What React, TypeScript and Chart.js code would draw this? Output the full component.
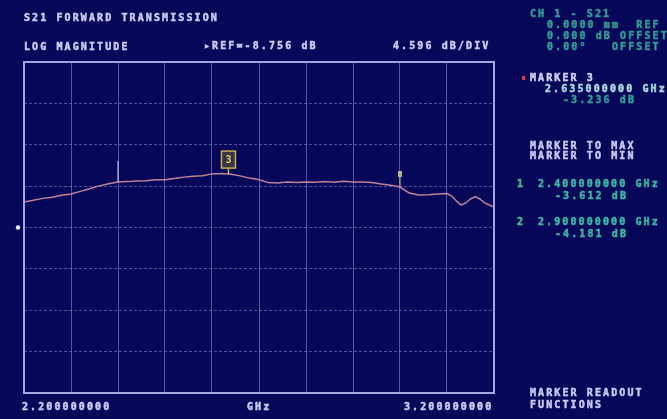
import React, { useEffect, useRef } from "react";
import { Chart, registerables } from "chart.js";

Chart.register(...registerables);

// ---- data ----
const X_START_GHZ = 2.2;
const X_STOP_GHZ = 3.2;
const X_DIVS = 10;
const REF_DB = -8.756;
const DB_PER_DIV = 4.596;
const Y_DIVS = 8;

const FREQ_GHZ = [
  2.2, 2.22, 2.24, 2.26, 2.28, 2.3, 2.32, 2.34, 2.36, 2.38, 2.4, 2.42, 2.44, 2.46, 2.48, 2.5,
  2.52, 2.54, 2.56, 2.58, 2.6, 2.62, 2.64, 2.66, 2.68, 2.7, 2.72, 2.74, 2.76, 2.78, 2.8,
  2.82, 2.84, 2.86, 2.88, 2.9, 2.92, 2.94, 2.96, 2.98, 3.0, 3.01, 3.02, 3.04, 3.06, 3.08,
  3.1, 3.11, 3.12, 3.13, 3.14, 3.15, 3.16, 3.17, 3.18, 3.19, 3.2,
];
const TRACE_DB = [
  -5.93, -5.73, -5.52, -5.39, -5.18, -5.04, -4.74, -4.45, -4.13, -3.89, -3.7, -3.66, -3.58,
  -3.55, -3.46, -3.44, -3.3, -3.16, -3.07, -3.0, -2.8, -2.77, -2.84, -3.02, -3.27, -3.46,
  -3.77, -3.8, -3.7, -3.77, -3.69, -3.72, -3.64, -3.72, -3.63, -3.71, -3.7, -3.77, -3.92,
  -4.05, -4.26, -4.6, -4.93, -5.15, -5.12, -5.04, -4.98, -5.26, -5.81, -6.26, -6.03, -5.59,
  -5.32, -5.59, -6.03, -6.26, -6.48,
];

const MARKER_IDS = ["1", "2", "3"];
const MARKER_FREQ_GHZ = [2.4, 3.0, 2.635];

const TITLE = "S21 FORWARD TRANSMISSION";
const FORMAT_LABEL = "LOG MAGNITUDE";
const REF_LABEL = "\u25B8REF=-8.756 dB";
const SCALE_LABEL = "4.596 dB/DIV";
const START_LABEL = "2.200000000";
const UNIT_LABEL = "GHz";
const STOP_LABEL = "3.200000000";

const PANEL_LINES: [string, number, number, string][] = [
  ["CH 1 - S21", 530, 14, "#2f9e92"],
  ["0.0000 mm  REF", 547, 25, "#2f9e92"],
  ["0.000 dB OFFSET", 547, 36, "#2f9e92"],
  ["0.00\u00B0   OFFSET", 547, 47, "#2f9e92"],
  ["MARKER 3", 530, 78, "#d0d0f4"],
  ["2.635000000 GHz", 545, 89, "#a8d8dc"],
  ["-3.236 dB", 563, 100, "#2f9e92"],
  ["MARKER TO MAX", 530, 146, "#c8c8f0"],
  ["MARKER TO MIN", 530, 156, "#c8c8f0"],
  ["1", 517, 184, "#3fc08a"],
  ["2.400000000 GHz", 538, 184, "#38b8a0"],
  ["-3.612 dB", 555, 196, "#38b8a0"],
  ["2", 517, 222, "#3fc08a"],
  ["2.900000000 GHz", 538, 222, "#38b8a0"],
  ["-4.181 dB", 555, 234, "#38b8a0"],
  ["MARKER READOUT", 530, 393, "#c8c8f0"],
  ["FUNCTIONS", 530, 405, "#c8c8f0"],
];

const BG = "#07075a";
const TEXT = "#cacaf2";

function traceAt(f: number): number {
  for (let i = 0; i < FREQ_GHZ.length - 1; i++) {
    if (f >= FREQ_GHZ[i] && f <= FREQ_GHZ[i + 1]) {
      const t = (f - FREQ_GHZ[i]) / (FREQ_GHZ[i + 1] - FREQ_GHZ[i]);
      return TRACE_DB[i] + t * (TRACE_DB[i + 1] - TRACE_DB[i]);
    }
  }
  return TRACE_DB[TRACE_DB.length - 1];
}

function txt(ctx: CanvasRenderingContext2D, s: string, x: number, y: number, color: string) {
  ctx.fillStyle = color;
  ctx.strokeStyle = color;
  ctx.lineWidth = 0.5;
  ctx.fillText(s, x, y);
  ctx.strokeText(s, x, y);
}

const hpPlugin = {
  id: "hp",
  beforeDraw(chart: any) {
    const ctx = chart.ctx as CanvasRenderingContext2D;
    ctx.save();
    ctx.fillStyle = BG;
    ctx.fillRect(0, 0, chart.width, chart.height);
    ctx.restore();
  },
  afterDraw(chart: any) {
    const ctx = chart.ctx as CanvasRenderingContext2D;
    const a = chart.chartArea;
    const xs = chart.scales.x;
    const ys = chart.scales.y;
    ctx.save();
    // border
    ctx.strokeStyle = "#a4a4e0";
    ctx.lineWidth = 2;
    ctx.strokeRect(a.left, a.top, a.right - a.left, a.bottom - a.top);

    // reference position dot
    const yRef = ys.getPixelForValue(REF_DB);
    ctx.fillStyle = "#f0f0ff";
    ctx.beginPath();
    ctx.arc(a.left - 6, yRef, 2.2, 0, Math.PI * 2);
    ctx.fill();

    // markers
    MARKER_IDS.forEach((id, i) => {
      const f = MARKER_FREQ_GHZ[i];
      const px = xs.getPixelForValue(f);
      const py = ys.getPixelForValue(traceAt(f));
      if (id === "1") {
        ctx.strokeStyle = "#d8d8f0";
        ctx.lineWidth = 1;
        ctx.beginPath();
        ctx.moveTo(px, py);
        ctx.lineTo(px, py - 21);
        ctx.stroke();
      } else if (id === "2") {
        ctx.strokeStyle = "#c8c090";
        ctx.lineWidth = 1;
        ctx.beginPath();
        ctx.moveTo(px, py);
        ctx.lineTo(px, py - 10);
        ctx.stroke();
        ctx.fillStyle = "#b8b088";
        ctx.fillRect(px - 2, py - 16, 4, 6);
      } else {
        ctx.strokeStyle = "#c8b050";
        ctx.lineWidth = 1.5;
        ctx.beginPath();
        ctx.moveTo(px, py);
        ctx.lineTo(px, py - 6);
        ctx.stroke();
        ctx.fillStyle = "rgba(120,110,40,0.45)";
        ctx.fillRect(px - 7, py - 23, 14, 17);
        ctx.strokeRect(px - 7, py - 23, 14, 17);
        ctx.fillStyle = "#e0d070";
        ctx.font = "bold 10px 'DejaVu Sans Mono'";
        ctx.textAlign = "center";
        ctx.textBaseline = "middle";
        ctx.fillText(id, px, py - 14);
      }
    });

    // texts
    ctx.textAlign = "left";
    ctx.textBaseline = "middle";
    ctx.font = "bold 10px 'DejaVu Sans Mono'";
    (ctx as any).letterSpacing = "2.1px";
    txt(ctx, TITLE, 24, 18, TEXT);
    txt(ctx, FORMAT_LABEL, 24, 47, TEXT);
    txt(ctx, REF_LABEL, 204, 46, TEXT);
    txt(ctx, SCALE_LABEL, 393, 46, TEXT);
    txt(ctx, START_LABEL, 22, 407, TEXT);
    txt(ctx, UNIT_LABEL, 247, 407, TEXT);
    txt(ctx, STOP_LABEL, 404, 407, TEXT);
    PANEL_LINES.forEach(([s, x, y, c]) => txt(ctx, s, x, y, c));
    // red marker indicator
    ctx.fillStyle = "#e03838";
    ctx.fillRect(522, 76, 3, 4);
    ctx.restore();
  },
};

export default function App() {
  const ref = useRef<HTMLCanvasElement | null>(null);
  useEffect(() => {
    document.body.style.margin = "0";
    document.body.style.background = BG;
    const canvas = ref.current!;
    const yMin = REF_DB - (Y_DIVS / 2) * DB_PER_DIV;
    const yMax = REF_DB + (Y_DIVS / 2) * DB_PER_DIV;
    const xStep = (X_STOP_GHZ - X_START_GHZ) / X_DIVS;
    const chart = new Chart(canvas, {
      type: "line",
      data: {
        datasets: [
          {
            data: FREQ_GHZ.map((f, i) => ({ x: f, y: TRACE_DB[i] })),
            borderColor: "#c08296",
            borderWidth: 1.5,
            pointRadius: 0,
            tension: 0,
          },
        ],
      },
      options: {
        responsive: false,
        animation: false,
        events: [],
        layout: { padding: { left: 24, right: 173, top: 62, bottom: 26 } },
        plugins: { legend: { display: false }, tooltip: { enabled: false } },
        scales: {
          x: {
            type: "linear",
            min: X_START_GHZ,
            max: X_STOP_GHZ,
            afterBuildTicks: (s: any) => {
              s.ticks = Array.from({ length: X_DIVS + 1 }, (_, i) => ({ value: X_START_GHZ + i * xStep }));
            },
            ticks: { display: false },
            grid: { color: "rgba(140,140,215,0.6)", lineWidth: 1, drawTicks: false },
            border: { display: false },
          },
          y: {
            type: "linear",
            min: yMin,
            max: yMax,
            afterBuildTicks: (s: any) => {
              s.ticks = Array.from({ length: Y_DIVS + 1 }, (_, i) => ({ value: yMin + i * DB_PER_DIV }));
            },
            ticks: { display: false },
            grid: { color: "rgba(140,140,215,0.55)", lineWidth: 1, drawTicks: false },
            border: { display: false, dash: [3, 2] },
          },
        },
      },
      plugins: [hpPlugin],
    });
    return () => chart.destroy();
  }, []);
  return <canvas ref={ref} width={667} height={419} style={{ display: "block" }} />;
}
